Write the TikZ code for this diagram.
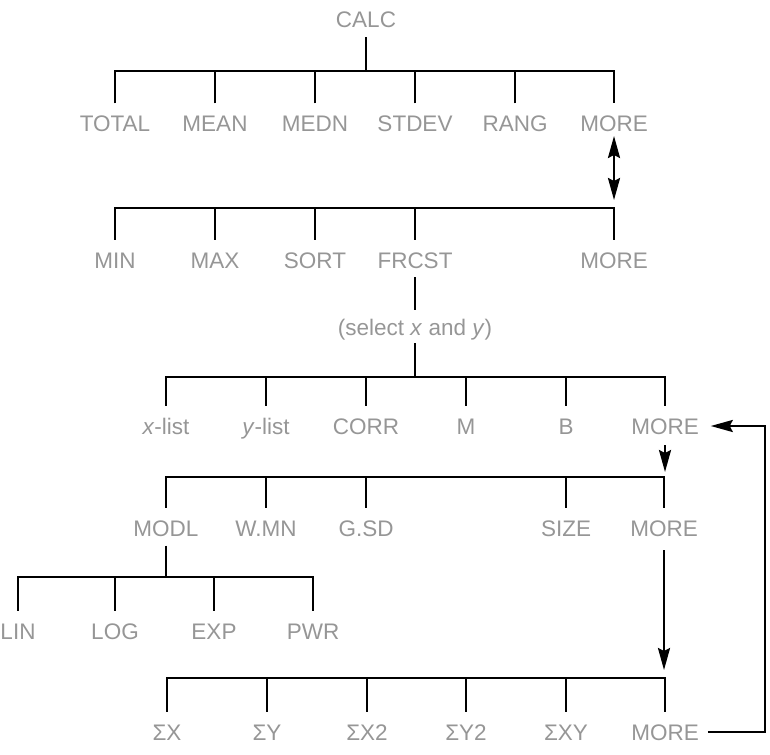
\documentclass[tikz,border=0pt]{standalone}
\usepackage{fontspec}
\setmainfont{Liberation Sans}
\usetikzlibrary{arrows.meta}
\definecolor{labelgray}{RGB}{150,150,150}
\begin{document}
\begin{tikzpicture}[x=1pt,y=-1pt,
  lbl/.style={font=\fontsize{22.5}{27}\selectfont, text=labelgray, inner sep=0pt, outer sep=0pt, text height=16pt, text depth=0pt},
  tree/.style={line width=2.3pt, black},
  up/.style={shorten <=12.5pt},
  dn/.style={shorten <=9.5pt},
  arr/.style={line width=2.3pt, black, -{Stealth[length=22pt,width=12pt,inset=3pt]}},
  darr/.style={line width=2.3pt, black, {Stealth[length=22pt,width=12pt,inset=3pt]}-{Stealth[length=22pt,width=12pt,inset=3pt]}}
]
\useasboundingbox (0,0) rectangle (770,754);
% bar levels
\coordinate (b1) at (0,71);
\coordinate (b2) at (0,208);
\coordinate (b3) at (0,377);
\coordinate (b4) at (0,477);
\coordinate (b5) at (0,577);
\coordinate (b6) at (0,678);
\coordinate (loopx) at (765,0);

% labels
\node[lbl] (calc) at (366,20) {CALC};

\node[lbl] (total) at (115,124) {TOTAL};
\node[lbl] (mean)  at (215,124) {MEAN};
\node[lbl] (medn)  at (315,124) {MEDN};
\node[lbl] (stdev) at (415,124) {STDEV};
\node[lbl] (rang)  at (515,124) {RANG};
\node[lbl] (more1) at (614,124) {MORE};

\node[lbl] (min)   at (115,260) {MIN};
\node[lbl] (max)   at (215,260) {MAX};
\node[lbl] (sort)  at (315,260) {SORT};
\node[lbl] (frcst) at (415,260) {FRCST};
\node[lbl] (more2) at (614,260) {MORE};

\node[lbl] (sel) at (415,327) {(select \textit{x} and \textit{y})};

\node[lbl] (xlist) at (166,426) {\textit{x}-list};
\node[lbl] (ylist) at (266,426) {\textit{y}-list};
\node[lbl] (corr)  at (366,426) {CORR};
\node[lbl] (m)     at (466,426) {M};
\node[lbl] (b)     at (566,426) {B};
\node[lbl] (more3) at (665,426) {MORE};

\node[lbl] (modl)  at (166,528) {MODL};
\node[lbl] (wmn)   at (266,528) {W.MN};
\node[lbl] (gsd)   at (366,528) {G.SD};
\node[lbl] (size)  at (566,528) {SIZE};
\node[lbl] (more4) at (664,528) {MORE};

\node[lbl] (lin) at (18,631) {LIN};
\node[lbl] (log) at (115,631) {LOG};
\node[lbl] (exp) at (214,631) {EXP};
\node[lbl] (pwr) at (313,631) {PWR};

\node[lbl] (sx)   at (167,732) {ΣX};
\node[lbl] (sy)   at (267,732) {ΣY};
\node[lbl] (sx2)  at (367,732) {ΣX2};
\node[lbl] (sy2)  at (466,732) {ΣY2};
\node[lbl] (sxy)  at (566,732) {ΣXY};
\node[lbl] (more6) at (665,732) {MORE};

% tree 1
\draw[tree,dn] (calc.south) -- (calc |- b1);
\draw[tree,shorten <=12.5pt,shorten >=12.5pt] (total.north) |- (more1 |- b1) -- (more1.north);
\foreach \n in {mean,medn,stdev,rang} \draw[tree,up] (\n.north) -- (\n |- b1);

% double arrow
\draw[darr,shorten <=4pt,shorten >=8pt] (more1.south) -- (more2 |- b2);

% tree 2
\draw[tree,shorten <=12.5pt,shorten >=12.5pt] (min.north) |- (more2 |- b2) -- (more2.north);
\foreach \n in {max,sort,frcst} \draw[tree,up] (\n.north) -- (\n |- b2);

% frcst -> select
\draw[tree,shorten <=9pt,shorten >=9pt] (frcst.south) -- (sel.north);
\draw[tree,shorten <=8pt] (sel.south) -- (sel |- b3);

% tree 3
\draw[tree,shorten <=12.5pt,shorten >=12.5pt] (xlist.north) |- (more3 |- b3) -- (more3.north);
\foreach \n in {ylist,corr,m,b} \draw[tree,up] (\n.north) -- (\n |- b3);

% arrow down to bar 4
\draw[arr,shorten <=11pt,shorten >=5pt] (more3.south) -- (more3 |- b4);

% tree 4
\draw[tree,shorten <=12.5pt,shorten >=12.5pt] (modl.north) |- (more4 |- b4) -- (more4.north);
\foreach \n in {wmn,gsd,size} \draw[tree,up] (\n.north) -- (\n |- b4);

% tree 5
\draw[tree,dn] (modl.south) -- (modl |- b5);
\draw[tree,shorten <=12.5pt,shorten >=12.5pt] (lin.north) |- (pwr |- b5) -- (pwr.north);
\foreach \n in {log,exp} \draw[tree,up] (\n.north) -- (\n |- b5);

% long arrow down to bar 6
\draw[arr,shorten <=14pt,shorten >=8pt] (more4.south) -- (more4 |- b6);

% tree 6
\draw[tree,shorten <=12.5pt,shorten >=12.5pt] (sx.north) |- (more6 |- b6) -- (more6.north);
\foreach \n in {sy,sx2,sy2,sxy} \draw[tree,up] (\n.north) -- (\n |- b6);

% loop back
\draw[arr,shorten <=9pt,shorten >=12pt] (more6.east) -- (loopx |- more6.east) -- (loopx |- more3.east) -- (more3.east);
\end{tikzpicture}
\end{document}
